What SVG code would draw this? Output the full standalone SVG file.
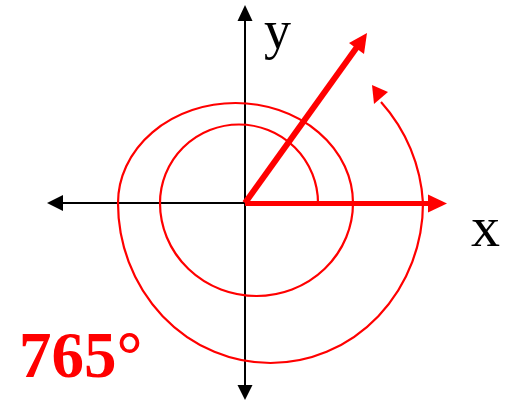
<svg xmlns="http://www.w3.org/2000/svg" width="511" height="404" viewBox="0 0 511 404">
<style>
.ax{stroke:#000;stroke-width:2;fill:none}
.axh{fill:#000}
.sp{stroke:#ff0000;stroke-width:2.2;fill:none}
.rd{fill:#ff0000}
.lbl{font-family:"Liberation Serif","Times New Roman",serif;fill:#000}
</style>
<g id="connectors">
<line class="ax" x1="245" y1="18" x2="245" y2="388"/>
<polygon class="axh" points="245,5 237.5,21 252.5,21"/>
<polygon class="axh" points="245,400 237.5,385 252.5,385"/>
<line class="ax" x1="60" y1="203" x2="245" y2="203"/>
<polygon class="axh" points="47,203 63,195 63,211"/>
<line stroke="#ff0000" stroke-width="5" x1="245" y1="203.5" x2="430" y2="203.5"/>
<polygon class="rd" points="447,203.5 428,194.5 428,212.5"/>
<line stroke="#ff0000" stroke-width="6" x1="245" y1="203" x2="357" y2="47"/>
<polygon class="rd" points="367,33 349,43 364,54"/>
<path class="sp" d="M318,203 A79,78.5 0 0 0 160,203 A96.5,93 0 0 0 353,203 A117.5,100 0 0 0 118,203 A152.5,160 0 0 0 423,203 A165,165 0 0 0 381,102"/>
<polygon class="rd" points="372,85 374,104 388,92"/>
</g>
<g id="label-y"><text class="lbl" x="264" y="48" font-size="54">y</text></g>
<g id="label-x"><text class="lbl" x="471" y="246" font-size="58">x</text></g>
<g id="label-angle"><text x="19" y="377" font-size="65" font-weight="bold" font-family="'Liberation Serif','Times New Roman',serif" fill="#ff0000">765°</text></g>
</svg>
